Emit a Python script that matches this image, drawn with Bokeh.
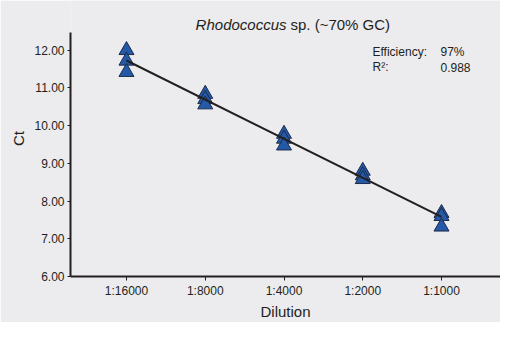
import numpy as np
from bokeh.plotting import figure
from bokeh.models import Label, FixedTicker, PrintfTickFormatter, Range1d
from bokeh.embed import file_html
from bokeh.resources import INLINE

# ---- data ----
dilutions = ["1:16000", "1:8000", "1:4000", "1:2000", "1:1000"]
rep1 = [12.00, 10.84, 9.78, 8.80, 7.68]
rep2 = [11.72, 10.70, 9.65, 8.68, 7.60]
rep3 = [11.42, 10.56, 9.47, 8.58, 7.32]
efficiency_text = "97%"
r2_text = "0.988"
y_ticks = [6, 7, 8, 9, 10, 11, 12]
y_axis_top = 12.47

BG = "#ECECEE"
FONT = "Liberation Sans"
DARK = "#231F20"

xpos = list(range(1, len(dilutions) + 1))
xs = xpos * 3
ys = rep1 + rep2 + rep3

p = figure(width=500, height=322, output_backend="svg", toolbar_location=None,
           x_range=Range1d(0.289, 5.749), y_range=Range1d(6.0, 13.319),
           min_border_left=70, min_border_right=0, min_border_top=0, min_border_bottom=46)
p.background_fill_color = BG
p.border_fill_color = BG
p.outline_line_color = None
p.xgrid.visible = False
p.ygrid.visible = False

# regression line
xa = np.array(xs, dtype=float)
ya = np.array(ys, dtype=float)
slope, intercept = np.polyfit(xa, ya, 1)
lx = [xpos[0], xpos[-1]]
ly = [slope * v + intercept for v in lx]

p.scatter(xs, ys, marker="triangle", size=15, fill_color="#2459A8",
          line_color="#1C2B4A", line_width=1)
p.line(lx, ly, line_color=DARK, line_width=2)

for ax in (p.xaxis[0], p.yaxis[0]):
    ax.axis_line_color = DARK
    ax.axis_line_width = 2
    ax.major_tick_line_color = DARK
    ax.major_tick_line_width = 1
    ax.minor_tick_line_color = None
    ax.major_tick_in = 0
    ax.major_label_text_font = FONT
    ax.major_label_text_font_size = "12px"
    ax.major_label_text_color = DARK
    ax.axis_label_text_font = FONT
    ax.axis_label_text_font_size = "15px"
    ax.axis_label_text_font_style = "normal"
    ax.axis_label_text_color = DARK

p.xaxis.ticker = FixedTicker(ticks=xpos)
p.xaxis.major_label_overrides = {i: d for i, d in zip(xpos, dilutions)}
p.xaxis.major_tick_out = 4
p.xaxis.major_label_standoff = 3
p.xaxis.axis_label = "Dilution"
p.xaxis.axis_label_standoff = 2

p.yaxis.ticker = FixedTicker(ticks=y_ticks)
p.yaxis.formatter = PrintfTickFormatter(format="%.2f")
p.yaxis.bounds = (y_ticks[0], y_axis_top)
p.yaxis.major_tick_out = 3
p.yaxis.major_label_standoff = 3
p.yaxis.axis_label = "Ct"
p.yaxis.axis_label_standoff = 4

# title (italic genus + normal rest)
p.add_layout(Label(x=216, y=12.68, x_units="screen", y_units="data", text="Rhodococcus",
                   text_font=FONT, text_font_size="15px", text_font_style="italic",
                   text_color=DARK, text_align="right", text_baseline="alphabetic"))
p.add_layout(Label(x=220, y=12.68, x_units="screen", y_units="data", text="sp. (~70% GC)",
                   text_font=FONT, text_font_size="15px", text_color=DARK,
                   text_align="left", text_baseline="alphabetic"))

# stats text
for txt, xx, yy in [("Efficiency:", 302, 11.95), (efficiency_text, 370, 11.95),
                    ("R\u00b2:", 302, 11.55), (r2_text, 370, 11.55)]:
    p.add_layout(Label(x=xx, y=yy, x_units="screen", y_units="data", text=txt,
                       text_font=FONT, text_font_size="12px", text_color=DARK,
                       text_align="left", text_baseline="alphabetic"))

open("out.html", "w").write(file_html(p, INLINE))
